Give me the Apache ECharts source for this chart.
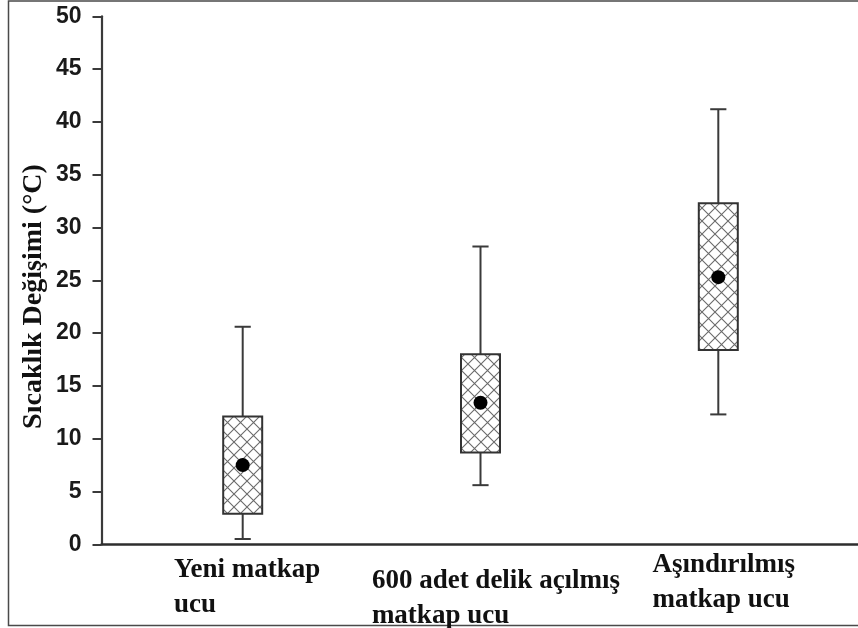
<!DOCTYPE html>
<html>
<head>
<meta charset="utf-8">
<script src="https://cdn.jsdelivr.net/npm/echarts@6/dist/echarts.min.js"></script>
<style>
  html, body { margin: 0; padding: 0; background: #fff; }
  #chart { width: 858px; height: 628px; }
</style>
</head>
<body>
<div id="chart"></div>
<script>
// Temperature change per drill-bit condition (°C)
const categories = ['Yeni matkap\nucu', '600 adet delik açılmış\nmatkap ucu', 'Aşındırılmış\nmatkap ucu'];
const whiskerLow  = [0.5, 5.6, 12.3];
const quartile1   = [2.9, 8.7, 18.4];
const quartile3   = [12.1, 18.0, 32.3];
const whiskerHigh = [20.6, 28.2, 41.2];
const means       = [7.5, 13.4, 25.3];
const yMin = 0, yMax = 50, yStep = 5;
const yTitle = 'Sıcaklık Değişimi (°C)';

// cross-hatch tile used to fill the boxes
function makeHatch() {
  const s = 13;
  const c = document.createElement('canvas');
  c.width = s; c.height = s;
  const g = c.getContext('2d');
  g.strokeStyle = '#6a6a6a';
  g.lineWidth = 1.1;
  g.beginPath();
  g.moveTo(0, 0); g.lineTo(s, s);
  g.moveTo(s, 0); g.lineTo(0, s);
  g.stroke();
  return c;
}
const hatch = { image: makeHatch(), repeat: 'repeat' };

const boxData = categories.map((_, i) =>
  [i, whiskerLow[i], quartile1[i], quartile3[i], whiskerHigh[i], means[i]]);

function renderBox(params, api) {
  const i = api.value(0);
  const pLow = api.coord([i, api.value(1)]);
  const pQ1 = api.coord([i, api.value(2)]);
  const pQ3 = api.coord([i, api.value(3)]);
  const pHigh = api.coord([i, api.value(4)]);
  const pMean = api.coord([i, api.value(5)]);
  const band = api.size([1, 0])[0];
  const bw = band * 0.164;
  const cw = band * 0.068;
  const x = pQ1[0];
  const lineStyle = { stroke: '#3a3a3a', lineWidth: 2 };
  return {
    type: 'group',
    children: [
      { type: 'line', shape: { x1: x, y1: pHigh[1], x2: x, y2: pQ3[1] }, style: lineStyle },
      { type: 'line', shape: { x1: x, y1: pQ1[1], x2: x, y2: pLow[1] }, style: lineStyle },
      { type: 'line', shape: { x1: x - cw / 2, y1: pHigh[1], x2: x + cw / 2, y2: pHigh[1] }, style: lineStyle },
      { type: 'line', shape: { x1: x - cw / 2, y1: pLow[1], x2: x + cw / 2, y2: pLow[1] }, style: lineStyle },
      { type: 'rect', shape: { x: x - bw / 2, y: pQ3[1], width: bw, height: pQ1[1] - pQ3[1] },
        style: { fill: hatch, stroke: '#333', lineWidth: 2 } },
      { type: 'circle', shape: { cx: x, cy: pMean[1], r: 7 }, style: { fill: '#000' } }
    ]
  };
}

const serif = '"Liberation Serif", "Times New Roman", serif';
const labelBase = { fontFamily: serif, fontWeight: 'bold', fontSize: 27, lineHeight: 35, color: '#111', align: 'left' };
const labelKeys = ['a', 'b', 'c'];
// each category label keeps its own offset, lines left-aligned
const rich = {
  a: Object.assign({}, labelBase, { padding: [10, 0, 0, 9] }),
  b: Object.assign({}, labelBase, { padding: [33, 0, 0, 31] }),
  c: Object.assign({}, labelBase, { padding: [0, 0, 0, 11] })
};

const chart = echarts.init(document.getElementById('chart'), null, { renderer: 'canvas' });
chart.setOption({
  animation: false,
  backgroundColor: '#fff',
  grid: [
    { left: 123.8, right: 20.8, top: 16.3, bottom: 83.7, outerBoundsMode: 'none', containLabel: false },
    { left: 101.5, right: 0, top: 16.3, bottom: 83.7, outerBoundsMode: 'none', containLabel: false }
  ],
  xAxis: [
    {
      type: 'category', gridIndex: 0, data: categories,
      axisLine: { show: false }, axisTick: { show: false }, splitLine: { show: false },
      axisLabel: {
        interval: 0, margin: 3, align: 'center', verticalAlign: 'top',
        formatter: (value, index) => value.split('\n')
          .map(line => '{' + labelKeys[index] + '|' + line + '}').join('\n'),
        rich: rich
      }
    },
    {
      type: 'value', gridIndex: 1, min: 0, max: 1,
      axisLine: { show: true, lineStyle: { color: '#2e2e2e', width: 2.5 } },
      axisTick: { show: false }, axisLabel: { show: false }, splitLine: { show: false }
    }
  ],
  yAxis: [
    { type: 'value', gridIndex: 0, min: yMin, max: yMax, interval: yStep, show: false },
    {
      type: 'value', gridIndex: 1, min: yMin, max: yMax, interval: yStep,
      axisLine: { show: true, lineStyle: { color: '#3a3a3a', width: 2.2 } },
      axisTick: { show: true, length: 9, lineStyle: { color: '#3a3a3a', width: 2 } },
      splitLine: { show: false },
      axisLabel: {
        margin: 20, color: '#1a1a1a', fontSize: 23, fontWeight: 'bold',
        fontFamily: '"Liberation Sans", Arial, sans-serif'
      }
    }
  ],
  graphic: [
    {
      type: 'polyline', silent: true,
      shape: { points: [[858, 1], [8.5, 1], [8.5, 625.5], [858, 625.5]] },
      style: { stroke: '#4a4a4a', lineWidth: 1.5, fill: null }
    },
    {
      type: 'text', x: 34, y: 296.5, rotation: Math.PI / 2,
      style: {
        text: yTitle, fontFamily: serif, fontWeight: 'bold', fontSize: 28,
        fill: '#111', align: 'center', verticalAlign: 'middle'
      }
    }
  ],
  series: [
    {
      type: 'custom', xAxisIndex: 0, yAxisIndex: 0,
      renderItem: renderBox, data: boxData, z: 5
    }
  ]
});
</script>
</body>
</html>
